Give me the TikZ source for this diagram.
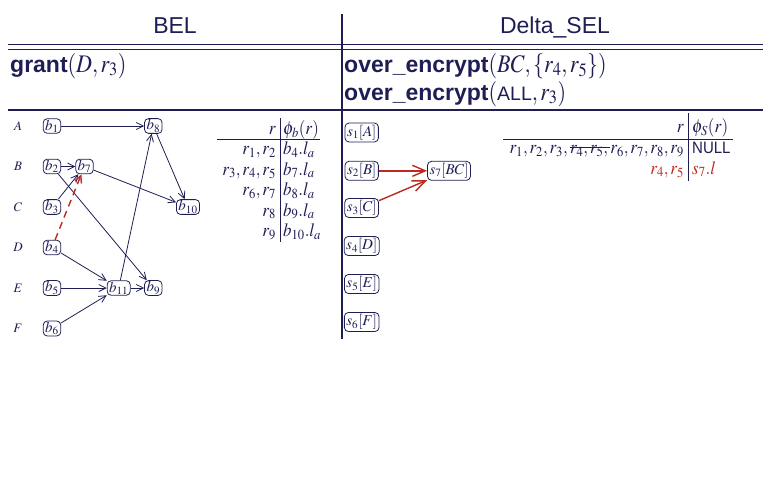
\documentclass[tikz,border=0pt]{standalone}
\usepackage{mathptmx}
\usepackage{fontspec}
\setmainfont{Liberation Serif}
\setsansfont{Liberation Sans}
\usepackage{graphicx}
\usetikzlibrary{arrows.meta}
\definecolor{navy}{RGB}{30,30,85}
\definecolor{brick}{RGB}{190,40,30}
\newcommand{\vst}[1]{\scalebox{1}[1.1]{#1}}
\newcommand{\opm}[1]{\scalebox{1}[1.15]{\fontsize{22}{26}\selectfont$#1$}}
\newcommand{\opb}[1]{\textbf{#1}}
\tikzset{
  hdr/.style={font=\sffamily\fontsize{23}{26}\selectfont, inner sep=0pt, text=navy},
  opline/.style={font=\sffamily\fontsize{23}{26}\selectfont, inner sep=0pt, text=navy, anchor=base west},
  rowlbl/.style={font=\fontsize{13}{15}\selectfont, inner sep=0pt, text=navy},
  bnode/.style={draw=navy, rounded corners=4pt, line width=0.8pt, inner xsep=2pt, inner ysep=1pt,
    font=\fontsize{15}{17}\selectfont, text=navy},
  snode/.style={bnode, inner ysep=2pt},
  rule/.style={draw=navy, line width=1.1pt},
  tabrule/.style={draw=navy, line width=0.8pt},
  tabtxt/.style={font=\fontsize{17}{19}\selectfont, inner sep=0pt, text=navy},
  edge/.style={draw=navy, line width=0.8pt, -{Straight Barb[length=7pt,width=7pt]}},
  redge/.style={draw=brick, line width=1.4pt, -{Straight Barb[length=13pt,width=11pt]}},
  rdash/.style={draw=brick, line width=1.4pt, dash pattern=on 7pt off 5pt, -{Straight Barb[length=7pt,width=7pt]}}
}
\begin{document}
\begin{tikzpicture}[x=1pt,y=-1pt]
\path[use as bounding box] (0,0) rectangle (776,490);
% header
\node[hdr, anchor=base] (bel) at (175,33) {BEL};
\node[hdr, anchor=base] (dsel) at (555,33) {Delta\_SEL};
\draw[rule] (8,44.7) -- (763,44.7);
\draw[rule] (8,49.3) -- (763,49.3);
\draw[rule] (8,110) -- (763,110);
\draw[rule] (342,14) -- (342,339);
\node[opline] (grant) at (10,72) {\opb{grant}\opm{(D,r_3)}};
\node[opline] (over1) at (344,72) {\opb{over\_encrypt}\opm{(BC,\{r_4,r_5\})}};
\node[opline] (over2) at (344,100) {\opb{over\_encrypt}\opm{(}{\fontsize{19.5}{22}\selectfont ALL}\opm{,r_3)}};
% row labels
\node[rowlbl] (la) at (18,126) {$A$};
\node[rowlbl] (lb) at (18,166.5) {$B$};
\node[rowlbl] (lc) at (18,207) {$C$};
\node[rowlbl] (ld) at (18,247.5) {$D$};
\node[rowlbl] (le) at (18,288) {$E$};
\node[rowlbl] (lf) at (18,328.5) {$F$};
% BEL graph
\node[bnode] (b1) at (52,126) {$b_1$};
\node[bnode] (b2) at (52,166.5) {$b_2$};
\node[bnode] (b3) at (52,207) {$b_3$};
\node[bnode] (b4) at (52,247.5) {$b_4$};
\node[bnode] (b5) at (52,288) {$b_5$};
\node[bnode] (b6) at (52,328.5) {$b_6$};
\node[bnode] (b7) at (84.5,166.5) {$b_7$};
\node[bnode] (b8) at (153.3,126) {$b_8$};
\node[bnode] (b10) at (188,207) {$b_{10}$};
\node[bnode] (b11) at (118.7,288) {$b_{11}$};
\node[bnode] (b9) at (153.3,288) {$b_9$};
\draw[edge] (b1) -- (b8);
\draw[edge] (b8) -- (b10);
\draw[edge] (b2) -- (b7);
\draw[edge] (b2) -- (b9);
\draw[edge] (b3) -- (b7);
\draw[edge] (b7) -- (b10);
\draw[edge] (b4) -- (b11);
\draw[edge] (b5) -- (b11);
\draw[edge] (b6) -- (b11);
\draw[edge] (b11) -- (b8);
\draw[edge] (b11) -- (b9);
\draw[rdash] (b4) -- (b7);
% BEL table
\node[tabtxt, anchor=base east] (th1) at (276,134) {\vst{$r$}};
\node[tabtxt, anchor=base west] (th2) at (283,134) {\vst{$\phi_b(r)$}};
\draw[tabrule] (216.7,139) -- (320,139);
\draw[tabrule] (280,118) -- (280,241.7);
\node[tabtxt, anchor=base east] (tl1) at (276,154.5) {\vst{$r_1,r_2$}};
\node[tabtxt, anchor=base west] (tr1) at (283,154.5) {\vst{$b_4.l_a$}};
\node[tabtxt, anchor=base east] (tl2) at (276,175) {\vst{$r_3,r_4,r_5$}};
\node[tabtxt, anchor=base west] (tr2) at (283,175) {\vst{$b_7.l_a$}};
\node[tabtxt, anchor=base east] (tl3) at (276,195.5) {\vst{$r_6,r_7$}};
\node[tabtxt, anchor=base west] (tr3) at (283,195.5) {\vst{$b_8.l_a$}};
\node[tabtxt, anchor=base east] (tl4) at (276,216) {\vst{$r_8$}};
\node[tabtxt, anchor=base west] (tr4) at (283,216) {\vst{$b_9.l_a$}};
\node[tabtxt, anchor=base east] (tl5) at (276,236.5) {\vst{$r_9$}};
\node[tabtxt, anchor=base west] (tr5) at (283,236.5) {\vst{$b_{10}.l_a$}};
% SEL graph
\node[snode] (s1) at (361.7,132.5) {$s_1[A]$};
\node[snode] (s2) at (361.7,170.8) {$s_2[B]$};
\node[snode] (s3) at (361.7,208) {$s_3[C]$};
\node[snode] (s4) at (361.7,246) {$s_4[D]$};
\node[snode] (s5) at (361.7,284) {$s_5[E]$};
\node[snode] (s6) at (361.7,322) {$s_6[F]$};
\node[snode] (s7) at (449,170.8) {$s_7[BC]$};
\draw[redge] (s2) -- (s7);
\draw[redge] (s3) -- (s7);
% SEL table
\node[tabtxt, anchor=base east] (sh1) at (684,132.3) {\vst{$r$}};
\node[tabtxt, anchor=base west] (sh2) at (692,132.3) {\vst{$\phi_S(r)$}};
\draw[tabrule] (503.3,139) -- (732.7,139);
\draw[tabrule] (688.3,113.3) -- (688.3,181);
\node[tabtxt, anchor=base east] (sl1c) at (684,153.3) {\vst{$r_6,r_7,r_8,r_9$}};
\node[tabtxt, anchor=base east] (sl1b) at (sl1c.base west) {\vst{$r_4,r_5,\,$}};
\node[tabtxt, anchor=base east] (sl1a) at (sl1b.base west) {\vst{$r_1,r_2,r_3,\,$}};
\draw[navy, line width=0.8pt] ([yshift=5.6pt]sl1b.base west) -- ([yshift=5.6pt]sl1b.base east);
\node[tabtxt, anchor=base west] (sr1) at (692,153.3) {\vst{\sffamily\fontsize{15}{17}\selectfont NULL}};
\node[tabtxt, anchor=base east, text=brick] (sl2) at (684,174) {\vst{$r_4,r_5$}};
\node[tabtxt, anchor=base west, text=brick] (sr2) at (692,174) {\vst{$s_7.l$}};
\end{tikzpicture}
\end{document}
